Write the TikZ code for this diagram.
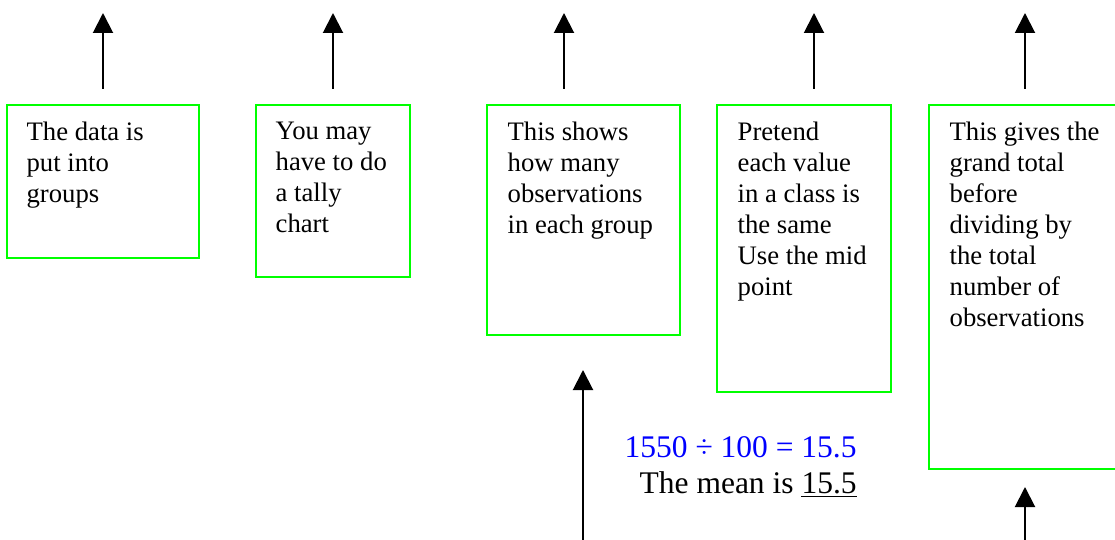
\documentclass[tikz,border=0pt]{standalone}
\usepackage{fontspec}
\setmainfont{Liberation Serif}
\usepackage{xcolor}
\usepackage{tikz}
\usetikzlibrary{arrows.meta, positioning, fit}
\definecolor{boxgreen}{RGB}{0,255,0}
\definecolor{sumblue}{RGB}{0,0,255}

\begin{document}
\begin{tikzpicture}[
  x=0.5pt, y=-0.5pt,
  note/.style={draw=boxgreen, line width=0.75pt, inner sep=0pt, fit={#1}},
  txt/.style={anchor=north west, inner sep=0pt, align=left, font=\fontsize{13.35}{15.5}\selectfont},
  sum/.style={anchor=base east, inner sep=0pt, font=\fontsize{15.75}{18}\selectfont},
  arr/.style={-{Triangle[length=10pt, width=10pt]}, line width=1pt}
]
\clip (0,0) rectangle (1115,540);

% boxes
\node[note={(7,105) (199,258)}] (groups) {};
\node[note={(256,105) (410,277)}] (tally) {};
\node[note={(487,105) (680,335)}] (freq) {};
\node[note={(717,105) (891,392)}] (mid) {};
\node[note={(929,105) (1125,469)}] (total) {};

\node[txt, below right=8.5pt and 10pt of groups.north west] (groupsT) {The data is\\put into\\groups};
\node[txt, below right=8.5pt and 10pt of tally.north west] (tallyT) {You may\\have to do\\a tally\\chart};
\node[txt, below right=8.5pt and 10.5pt of freq.north west] (freqT) {This shows\\how many\\observations\\in each group};
\node[txt, below right=8.5pt and 10.5pt of mid.north west] (midT) {Pretend\\each value\\in a class is\\the same\\Use the mid\\point};
\node[txt, below right=8.5pt and 10.5pt of total.north west] (totalT) {This gives the\\grand total\\before\\dividing by\\the total\\number of\\observations};

% result
\node[sum, text=sumblue] (calc) at (857,457) {1550 ÷ 100 = 15.5};
\node[sum] (mean) at (857,493) {The mean is \underline{15.5}};

% arrow ends
\coordinate (groupsA) at (103,89);  \coordinate (groupsB) at (103,13);
\coordinate (tallyA) at (333,89);   \coordinate (tallyB) at (333,13);
\coordinate (freqA) at (564,89);    \coordinate (freqB) at (564,13);
\coordinate (midA) at (814,89);     \coordinate (midB) at (814,13);
\coordinate (totalA) at (1025,89);  \coordinate (totalB) at (1025,13);
\coordinate (freqC) at (583,540);   \coordinate (freqD) at (583,370);
\coordinate (totalC) at (1025,540); \coordinate (totalD) at (1025,487);

\draw[arr] (groupsA) -- (groupsB);
\draw[arr] (tallyA) -- (tallyB);
\draw[arr] (freqA) -- (freqB);
\draw[arr] (midA) -- (midB);
\draw[arr] (totalA) -- (totalB);
\draw[arr] (freqC) -- (freqD);
\draw[arr] (totalC) -- (totalD);
\end{tikzpicture}
\end{document}
